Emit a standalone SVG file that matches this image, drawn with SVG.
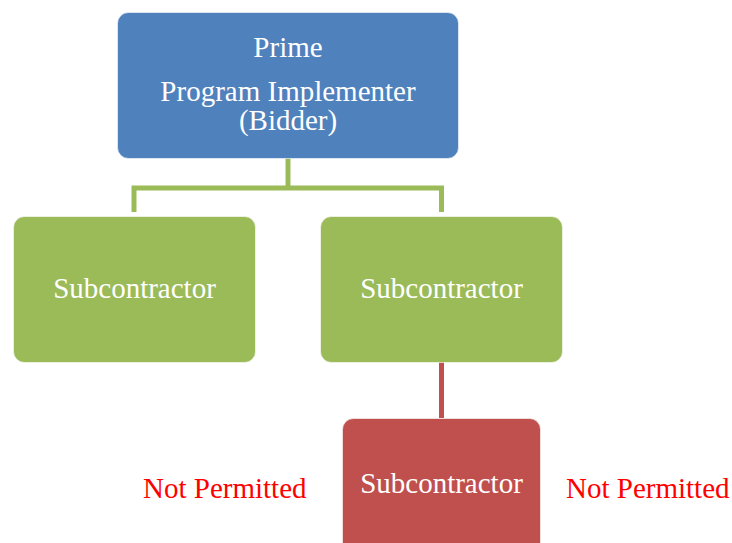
<svg xmlns="http://www.w3.org/2000/svg" width="732" height="543" viewBox="0 0 732 543">
  <style>
    .box { stroke: #ffffff; stroke-width: 1; stroke-opacity: 0.6; }
    .prime { fill: #4F81BD; }
    .sub { fill: #9BBB59; }
    .banned { fill: #C0504D; }
    .label { font-family: "Liberation Serif", "Times New Roman", serif; font-size: 29px; fill: #ffffff; text-anchor: middle; }
    .note { font-family: "Liberation Serif", "Times New Roman", serif; font-size: 29px; fill: #FF0000; }
    .link-green { fill: none; stroke: #9BBB59; stroke-width: 5; }
    .link-red { fill: none; stroke: #C0504D; stroke-width: 5; }
  </style>

  <!-- connectors -->
  <g id="connectors">
    <path class="link-green" d="M288 158 V188 M134 212 V188 H441.5 V212"/>
    <path class="link-red" d="M441.5 362 V418"/>
  </g>

  <g id="prime">
    <rect class="box prime" x="117.5" y="12.5" width="341" height="146" rx="11"/>
    <text class="label" x="288" y="57">Prime</text>
    <text class="label" x="288" y="101">Program Implementer</text>
    <text class="label" x="288" y="130">(Bidder)</text>
  </g>

  <g id="sub-left">
    <rect class="box sub" x="13.5" y="216.5" width="242" height="146" rx="11"/>
    <text class="label" x="134.5" y="298">Subcontractor</text>
  </g>

  <g id="sub-right">
    <rect class="box sub" x="320.5" y="216.5" width="242" height="146" rx="11"/>
    <text class="label" x="441.5" y="298">Subcontractor</text>
  </g>

  <g id="sub-tier2">
    <rect class="box banned" x="342.5" y="418.5" width="198" height="146" rx="11"/>
    <text class="label" x="441.5" y="493">Subcontractor</text>
  </g>

  <text class="note" x="143" y="498">Not Permitted</text>
  <text class="note" x="566" y="498">Not Permitted</text>
</svg>
